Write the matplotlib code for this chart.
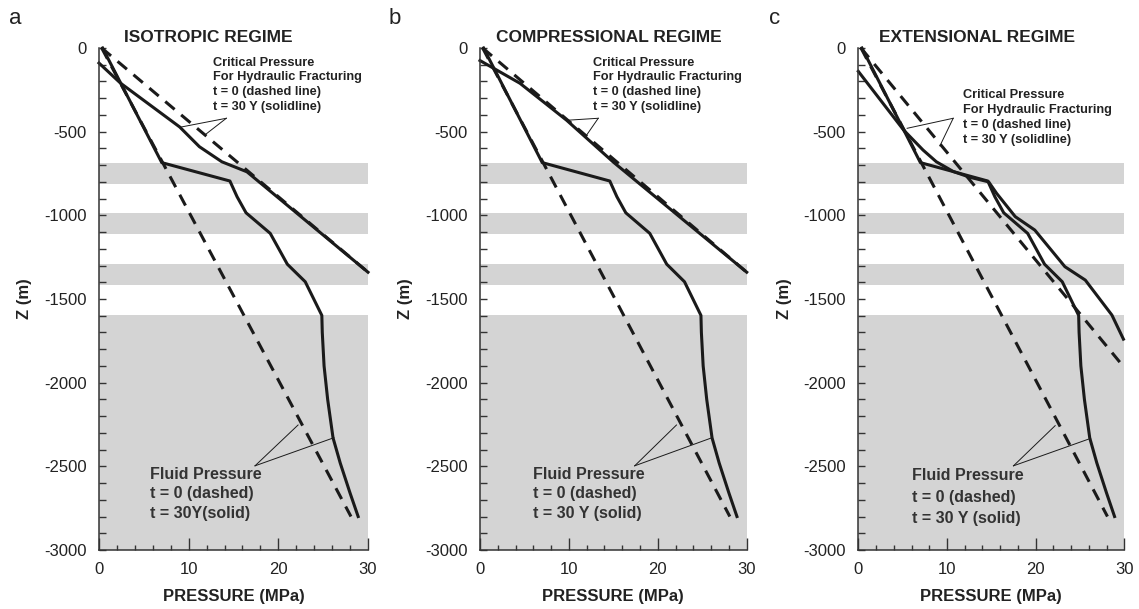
import matplotlib
matplotlib.use("Agg")
import matplotlib.pyplot as plt
from matplotlib.ticker import MultipleLocator

plt.rcParams['font.family'] = ['Liberation Sans', 'DejaVu Sans']
plt.rcParams['axes.unicode_minus'] = False

# depth intervals of the shaded layers (m)
band_tops = [-690, -985, -1290, -1595]
band_bottoms = [-810, -1110, -1415, -3000]

# fluid pressure, t = 0 (hydrostatic) and t = 30 Y
fluid0_p = [0.3, 28.1]
fluid0_z = [0, -2800]
fluid30_p = [0.4, 7.0, 14.6, 15.4, 16.4, 19.1, 21.0, 23.0, 24.85, 24.9,
             25.1, 25.5, 26.1, 26.9, 28.0, 28.9]
fluid30_z = [0, -685, -795, -889, -985, -1108, -1292, -1397, -1598, -1700,
             -1900, -2100, -2330, -2480, -2660, -2800]

# critical pressure for hydraulic fracturing, t = 0
crit0_iso_p = [0.3, 30]
crit0_iso_z = [0, -1340]
crit0_comp_p = [0.3, 30]
crit0_comp_z = [0, -1340]
crit0_ext_p = [0.3, 30]
crit0_ext_z = [0, -1910]

# critical pressure for hydraulic fracturing, t = 30 Y
crit30_iso_p = [0, 2.4, 9.0, 11.2, 13.7, 16.5, 30]
crit30_iso_z = [-90, -210, -472, -590, -680, -740, -1340]
crit30_comp_p = [0, 4.5, 9.75, 15.0, 30]
crit30_comp_z = [-75, -211, -432, -682, -1340]
crit30_ext_p = [0, 5.1, 7.3, 8.8, 10.7, 12.6, 14.7, 15.6, 17.7, 19.9, 23.3,
                25.6, 28.6, 29.9]
crit30_ext_z = [-140, -490, -610, -680, -738, -773, -800, -869, -1008, -1088,
                -1307, -1387, -1596, -1740]

letters = ['a', 'b', 'c']
titles = ['ISOTROPIC REGIME', 'COMPRESSIONAL REGIME', 'EXTENSIONAL REGIME']
crit_text = ('Critical Pressure\nFor Hydraulic Fracturing\n'
             't = 0 (dashed line)\nt = 30 Y (solidline)')
fluid_texts = ['Fluid Pressure\nt = 0 (dashed)\nt = 30Y(solid)',
               'Fluid Pressure\nt = 0 (dashed)\nt = 30 Y (solid)',
               'Fluid Pressure\nt = 0 (dashed)\nt = 30 Y (solid)']

panels = [
    dict(crit0=(crit0_iso_p, crit0_iso_z), crit30=(crit30_iso_p, crit30_iso_z),
         left=0.0869, width=0.2362, title_x=0.405, crit_xy=(0.423, 0.983),
         fluid_xy=(0.19, 0.166), fluid_ls=1.4,
         crit_lead=[(14.2, -420), (9.0, -474), (11.8, -520)],
         fluid_lead=[(17.4, -2497), (22.2, -2253), (26.2, -2329)]),
    dict(crit0=(crit0_comp_p, crit0_comp_z), crit30=(crit30_comp_p, crit30_comp_z),
         left=0.4214, width=0.2342, title_x=0.484, crit_xy=(0.423, 0.983),
         fluid_xy=(0.198, 0.166), fluid_ls=1.4,
         crit_lead=[(13.3, -420), (9.75, -432), (12.0, -520)],
         fluid_lead=[(17.4, -2497), (22.1, -2253), (26.1, -2329)]),
    dict(crit0=(crit0_ext_p, crit0_ext_z), crit30=(crit30_ext_p, crit30_ext_z),
         left=0.7536, width=0.2335, title_x=0.446, crit_xy=(0.395, 0.918),
         fluid_xy=(0.2, 0.163), fluid_ls=1.55,
         crit_lead=[(10.7, -420), (5.5, -480), (9.2, -585)],
         fluid_lead=[(17.5, -2497), (22.2, -2257), (26.2, -2333)]),
]

dash = (0, (4, 2.8))
ink = '#1a1a1a'

fig = plt.figure(figsize=(11.39, 6.09), dpi=100)

for i, pn in enumerate(panels):
    ax = fig.add_axes([pn['left'], 0.0969, pn['width'], 0.8243])

    for top, bot in zip(band_tops, band_bottoms):
        ax.axhspan(bot, top, color='#d4d4d4', lw=0, zorder=0)

    ax.plot(fluid0_p, fluid0_z, color=ink, lw=2.2, ls=dash, clip_on=False)
    ax.plot(fluid30_p, fluid30_z, color=ink, lw=2.2, clip_on=False)
    ax.plot(*pn['crit0'], color=ink, lw=2.2, ls=dash, clip_on=False)
    ax.plot(*pn['crit30'], color=ink, lw=2.2, clip_on=False)

    # leader lines from the labels to the curves
    for lead in (pn['crit_lead'], pn['fluid_lead']):
        apex = lead[0]
        for end in lead[1:]:
            ax.plot([apex[0], end[0]], [apex[1], end[1]], color=ink, lw=0.7)

    ax.text(*pn['crit_xy'], crit_text, transform=ax.transAxes, fontsize=9.2,
            fontweight='bold', color='#222222', va='top', ha='left',
            linespacing=1.33)
    ax.text(*pn['fluid_xy'], fluid_texts[i], transform=ax.transAxes,
            fontsize=11.5, fontweight='bold', color='#333333', va='top',
            ha='left', linespacing=pn['fluid_ls'])

    ax.set_xlim(0, 30)
    ax.set_ylim(-3000, 0)
    ax.spines['top'].set_visible(False)
    ax.spines['right'].set_visible(False)
    for s in ('left', 'bottom'):
        ax.spines[s].set_linewidth(1.1)
        ax.spines[s].set_color('#333333')

    ax.xaxis.set_major_locator(MultipleLocator(10))
    ax.xaxis.set_minor_locator(MultipleLocator(2))
    ax.yaxis.set_major_locator(MultipleLocator(500))
    ax.yaxis.set_minor_locator(MultipleLocator(100))
    ax.tick_params(axis='x', which='major', direction='in', length=8.5,
                   width=1, pad=9, labelsize=12, colors='#333333',
                   labelcolor='#222222')
    ax.tick_params(axis='x', which='minor', direction='in', length=3.5,
                   width=1, colors='#333333')
    ax.tick_params(axis='y', which='both', direction='in', length=5,
                   width=1, pad=9, labelsize=12, colors='#333333',
                   labelcolor='#222222')

    ax.set_xlabel('PRESSURE (MPa)', fontsize=12, fontweight='bold',
                  color='#222222')
    ax.xaxis.set_label_coords(0.5, -0.078)
    ax.set_ylabel('Z (m)', fontsize=12, fontweight='bold', color='#222222')
    ax.yaxis.set_label_coords(-0.25, 0.5)

    ax.text(pn['title_x'], 1.02, titles[i], transform=ax.transAxes,
            fontsize=12.5, fontweight='bold', color='#222222', ha='center',
            va='center')

for letter, px in zip(letters, [15, 395, 775]):
    fig.text(px / 1139, 1 - 18 / 609, letter, fontsize=16, color='#222222',
             ha='center', va='center')

fig.savefig('out.png', dpi=100)
